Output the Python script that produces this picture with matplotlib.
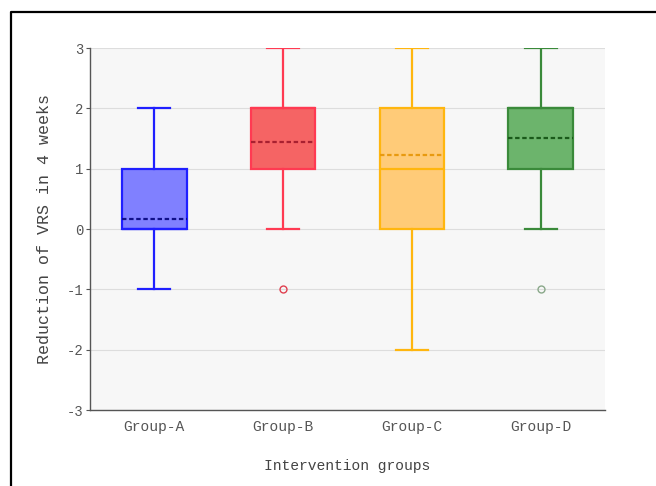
import matplotlib.pyplot as plt
from matplotlib.lines import Line2D

# values
groups = ["Group-A", "Group-B", "Group-C", "Group-D"]
q1 = [0, 1, 0, 1]
q3 = [1, 2, 2, 2]
medians = [0, 2, 1, 2]
means = [0.17, 1.44, 1.23, 1.51]
whisk_lo = [-1, 0, -2, 0]
whisk_hi = [2, 3, 3, 3]
outliers = [[], [-1], [], [-1]]
yticks = [-3, -2, -1, 0, 1, 2, 3]

edge_colors = ["#1f1fff", "#ff3a52", "#ffb60f", "#3a8a3a"]
fill_colors = ["#8080ff", "#f56464", "#ffcb78", "#6cb46c"]
mean_colors = ["#10108a", "#a82030", "#e89a10", "#1a5a1a"]
flier_colors = ["#1f1fff", "#e04050", "#ffb60f", "#8aa88a"]

font = "Liberation Mono"

fig = plt.figure(figsize=(6.56, 4.86), dpi=100)
ax = fig.add_axes([90 / 656, 1 - 410 / 486, 515 / 656, 362 / 486])

stats = []
for i in range(len(groups)):
    stats.append({
        "label": groups[i],
        "q1": q1[i], "q3": q3[i], "med": medians[i], "mean": means[i],
        "whislo": whisk_lo[i], "whishi": whisk_hi[i], "fliers": outliers[i],
    })

parts = ax.bxp(stats, positions=range(len(groups)), widths=0.5, capwidths=0.25,
               patch_artist=True, showmeans=True, meanline=True, zorder=3)

for i in range(len(groups)):
    c = edge_colors[i]
    parts["boxes"][i].set(facecolor=fill_colors[i], edgecolor=c, linewidth=1.6)
    parts["medians"][i].set(color=c, linewidth=1.6)
    parts["means"][i].set(color=mean_colors[i], linewidth=1.6,
                          linestyle=(0, (2, 1.2)))
    for w in parts["whiskers"][2 * i:2 * i + 2]:
        w.set(color=c, linewidth=1.6)
    for cap in parts["caps"][2 * i:2 * i + 2]:
        cap.set(color=c, linewidth=1.6)
    parts["fliers"][i].set(marker="o", markersize=5, markerfacecolor="none",
                           markeredgecolor=flier_colors[i], markeredgewidth=1.0)

ax.set_facecolor("#f7f7f7")
ax.set_xlim(-0.5, 3.5)
ax.set_ylim(-3, 3)
ax.set_yticks(yticks)
ax.set_yticklabels([str(t) for t in yticks], fontfamily=font, fontsize=10, color="#555555")
ax.set_xticks(range(len(groups)))
ax.set_xticklabels(groups, fontfamily=font, fontsize=10.5, color="#555555")
ax.tick_params(axis="x", length=0, pad=7)
ax.tick_params(axis="y", length=3, width=0.8, color="#555555", pad=2)
ax.yaxis.grid(True, color="#dddddd", linewidth=0.8, zorder=0)
ax.set_axisbelow(True)
for s in ["top", "right"]:
    ax.spines[s].set_visible(False)
for s in ["left", "bottom"]:
    ax.spines[s].set_color("#555555")
    ax.spines[s].set_linewidth(1.0)

ax.set_xlabel("Intervention groups", fontfamily=font, fontsize=10.5, color="#444444", labelpad=18)
ax.set_ylabel("Reduction of VRS in 4 weeks", fontfamily=font, fontsize=12, color="#444444", labelpad=10)

# outer frame of the original picture
fig.add_artist(Line2D([11 / 656, 11 / 656, 1.0], [0.0, 1 - 12 / 486, 1 - 12 / 486],
                      transform=fig.transFigure, color="black", linewidth=1.6))

fig.savefig("out.png", dpi=100)
